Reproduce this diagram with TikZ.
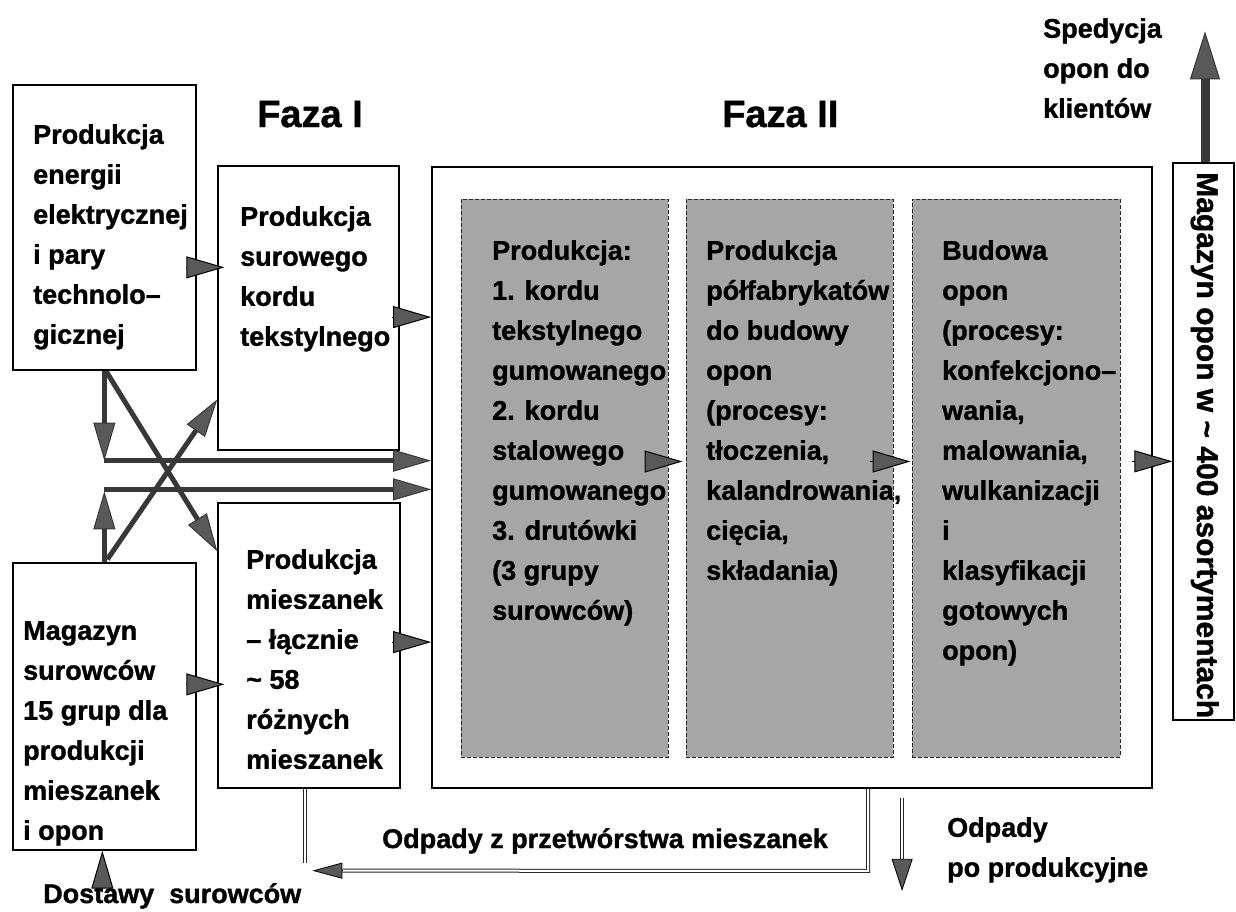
\documentclass[tikz,border=0pt]{standalone}
\usepackage{fontspec}
\setmainfont{Liberation Sans}[BoldFeatures={FakeBold=1.2}]
\usetikzlibrary{arrows.meta,calc}
\begin{document}
\begin{tikzpicture}[x=1pt,y=-1pt,
  frame/.style={draw=black, line width=1.3pt, inner sep=0pt, rectangle},
  panel/.style={draw=black!85, dash pattern=on 4pt off 2pt, line width=1pt, fill=black!35, inner sep=0pt, rectangle},
  txt/.style={inner sep=0pt, anchor=north west, align=left,
    font=\fontsize{27}{40}\selectfont\bfseries,
    execute at begin node={\rule{0pt}{20pt}}},
  line/.style={inner sep=0pt, anchor=base west, font=\fontsize{27}{40}\selectfont\bfseries},
  phase/.style={inner sep=0pt, anchor=base west, font=\fontsize{38}{44}\selectfont\bfseries},
  flow/.style={draw=black!78, line width=5pt,
    -{Triangle[length=38pt,width=22pt,line width=1pt,fill=black!65]}},
  head/.style={draw=black, line width=1pt,
    -{Triangle[length=38pt,width=22pt,line width=1pt,fill=black!65]}},
  dbl/.style={draw=black!85, double, double distance=2pt, line width=1pt}]

\useasboundingbox[fill=white] (0,0) rectangle (1236,911);

% boxes of phase I and the stores
\node[frame, minimum width=183pt, minimum height=285pt] (A) at (104.5,227.5) {};
\node[frame, minimum width=181pt, minimum height=284pt] (B) at (308.5,308) {};
\node[frame, minimum width=182pt, minimum height=285pt] (C) at (309,645.5) {};
\node[frame, minimum width=183pt, minimum height=287pt] (D) at (104.5,706.5) {};

% phase II frame with its three shaded stages
\node[frame, line width=1.8pt, minimum width=720pt, minimum height=621pt] (F) at (792,477.5) {};
\node[panel, minimum width=207pt, minimum height=558pt] (S1) at (564.5,478) {};
\node[panel, minimum width=207pt, minimum height=558pt] (S2) at (789.5,478) {};
\node[panel, minimum width=208pt, minimum height=558pt] (S3) at (1016,478) {};

% tyre store (vertical)
\node[frame, minimum width=61pt, minimum height=557pt] (M) at (1203.5,441.5) {};

% texts
\node[phase] (fI) at (257,127) {Faza I};
\node[phase] (fII) at (722,127) {Faza II};
\node[txt] (tA) at (33,124) {Produkcja\\energii\\elektrycznej\\i pary\\technolo–\\gicznej};
\node[txt] (tB) at (240,206) {Produkcja\\surowego\\kordu\\tekstylnego};
\node[txt] (tC) at (246,549) {Produkcja\\mieszanek\\– łącznie\\\textasciitilde{} 58\\różnych\\mieszanek};
\node[txt] (tD) at (23,621) {Magazyn\\surowców\\15 grup dla\\produkcji\\mieszanek\\i opon};
\node[txt] (t1) at (492,240) {Produkcja:\\1. kordu\\tekstylnego\\gumowanego\\2. kordu\\stalowego\\gumowanego\\3. drutówki\\(3 grupy\\surowców)};
\node[txt] (t2) at (706,240) {Produkcja\\półfabrykatów\\do budowy\\opon\\(procesy:\\tłoczenia,\\kalandrowania,\\cięcia,\\składania)};
\node[txt] (t3) at (942,240) {Budowa\\opon\\(procesy:\\konfekcjono–\\wania,\\malowania,\\wulkanizacji\\i\\klasyfikacji\\gotowych\\opon)};
\node[txt] (tS) at (1043,18) {Spedycja\\opon do\\klientów};
\node[inner sep=0pt, anchor=base west, rotate=-90, font=\fontsize{30}{36}\selectfont\bfseries]
  (tM) at (1197,172) {Magazyn opon w \textasciitilde{} 400 asortymentach};
\node[line] (tW) at (382,848) {Odpady z przetwórstwa mieszanek};
\node[txt] (tP) at (947,817) {Odpady\\po produkcyjne};
\node[line] (tDost) at (43,903) {Dostawy\ \ surowców};

% energy and raw material flows
\coordinate (j1) at ($(A.south west)+(92,90)$);
\coordinate (j2) at ($(D.north west)+(92,-73)$);
\draw[flow] ($(A.south west)+(92,0)$) -- (j1);
\draw[flow] (j1) -- (j1 -| F.west);
\draw[flow] ($(D.north west)+(92,0)$) -- ($(j2)+(0,2)$);
\draw[flow] (j2) -- (j2 -| F.west);
\draw[flow] ($(A.south west)+(94,1)$) -- ($(C.north west)+(0,49)$);
\draw[flow] ($(D.north west)+(95,-3)$) -- ($(B.north west)+(0,234)$);

% short transfer arrows between boxes
\draw[head] ($(B.north west)+(-31,102)$) -- ($(B.north west)+(7,102)$);
\draw[head] ($(F.north west)+(-39,151)$) -- ($(F.north west)+(0,151)$);
\draw[head] ($(F.north west)+(-39,476)$) -- ($(F.north west)+(0,476)$);
\draw[head] ($(C.north west)+(-31,182)$) -- ($(C.north west)+(7,182)$);
\draw[head] ($(S2.north west)+(-41,263)$) -- ($(S2.north west)+(-3,263)$);
\draw[head] ($(S3.north west)+(-42,263)$) -- ($(S3.north west)+(-1,263)$);
\draw[head] ($(M.north west)+(-40,299)$) -- ($(M.north west)+(0,299)$);
\draw[head] ($(D.south west)+(90,41)$) -- ($(D.south west)+(90,0)$);

% dispatch to customers
\draw[draw=black!78, line width=9pt,
  -{Triangle[length=48pt,width=30pt,line width=1pt,fill=black!65]}]
  ($(M.north)+(1.5,0)$) -- ($(M.north)+(1.5,-131)$);

% waste flows
\coordinate (o1) at ($(F.south west)+(437,0)$);
\coordinate (o2) at ($(o1)+(0,82)$);
\coordinate (o3) at ($(C.south west)+(125,82)$);
\coordinate (o4) at ($(C.south west)+(95,82)$);
\draw[dbl] ($(C.south west)+(88,0)$) -- ++(0,74);
\draw[dbl] (o1) -- (o2) -- (o3);
\draw[draw=black, line width=0.8pt,
  -{Triangle[length=30pt,width=16pt,line width=0.8pt,fill=black!65]}] (o3) -- (o4);
\coordinate (p1) at ($(F.south west)+(471,9)$);
\coordinate (p2) at ($(p1)+(0,61)$);
\coordinate (p3) at ($(p1)+(0,93)$);
\draw[dbl] (p1) -- (p2);
\draw[draw=black, line width=0.8pt,
  -{Triangle[length=32pt,width=21pt,line width=0.8pt,fill=black!65]}] (p2) -- (p3);
\end{tikzpicture}
\end{document}
